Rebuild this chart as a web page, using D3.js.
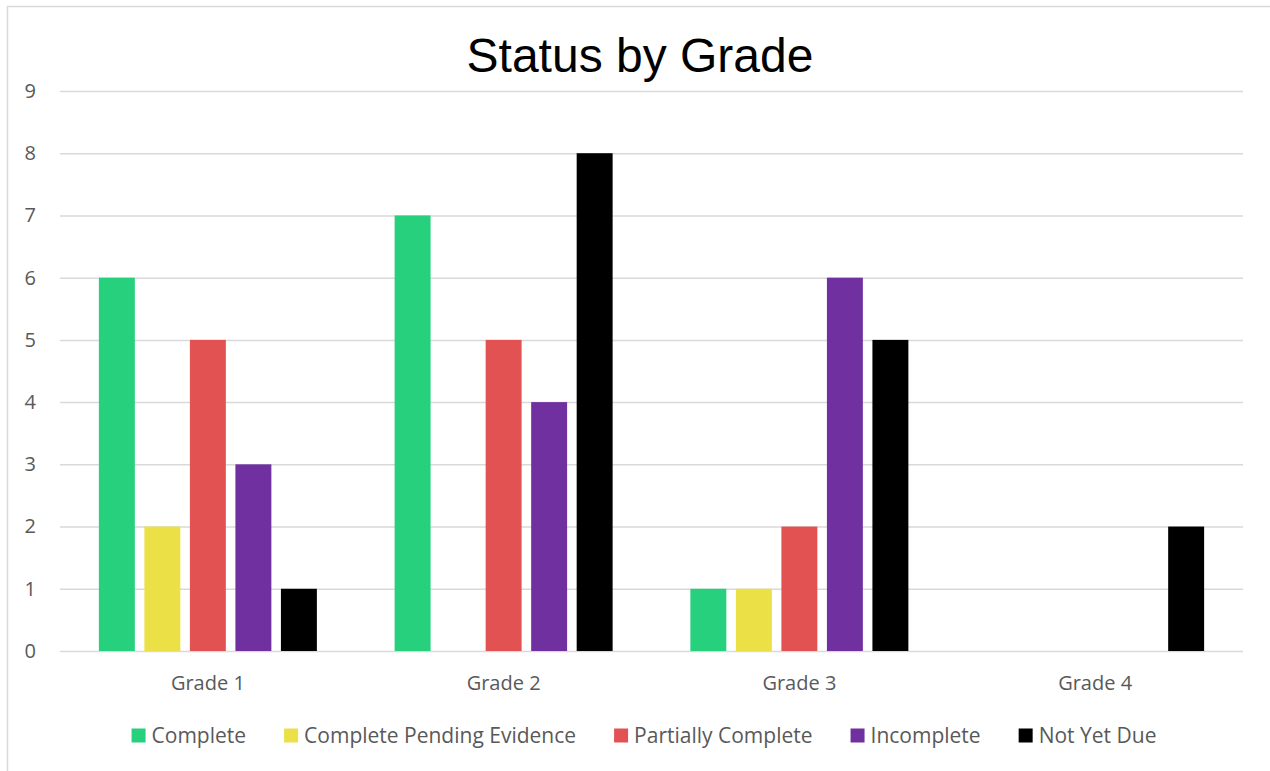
<!DOCTYPE html>
<html>
<head>
<meta charset="utf-8">
<script src="https://cdn.jsdelivr.net/npm/d3@7"></script>
<style>
  html, body { margin: 0; padding: 0; background: #fff; }
  svg { display: block; }
</style>
</head>
<body>
<svg id="chart" width="1270" height="771"></svg>
<script>
const categories = ["Grade 1", "Grade 2", "Grade 3", "Grade 4"];
const seriesNames = ["Complete", "Complete Pending Evidence", "Partially Complete", "Incomplete", "Not Yet Due"];
const seriesColors = ["#27D07D", "#EBE045", "#E35252", "#7030A0", "#000000"];
const complete = [6, 7, 1, 0];
const completePending = [2, 0, 1, 0];
const partiallyComplete = [5, 5, 2, 0];
const incomplete = [3, 4, 6, 0];
const notYetDue = [1, 8, 5, 2];
const yTicks = [0, 1, 2, 3, 4, 5, 6, 7, 8, 9];
const title = "Status by Grade";

const seriesValues = [complete, completePending, partiallyComplete, incomplete, notYetDue];

const svg = d3.select("#chart");
const W = 1270, H = 771;
const plot = { left: 60, right: 1243, top: 91, bottom: 651 };
const tickFont = "'Open Sans', 'Noto Sans', sans-serif";
const textColor = "#595959";

// chart border
svg.append("rect")
  .attr("x", 7.5).attr("y", 6.5)
  .attr("width", W + 10).attr("height", H + 10)
  .attr("fill", "#fff").attr("stroke", "#d9d9d9").attr("stroke-width", 1.5);

// title
svg.append("text")
  .attr("x", 640).attr("y", 72)
  .attr("text-anchor", "middle")
  .attr("font-family", "'Liberation Sans', Arial, sans-serif")
  .attr("font-size", 48)
  .attr("fill", "#000")
  .text(title);

const y = d3.scaleLinear().domain([0, 9]).range([plot.bottom, plot.top]);
const x0 = d3.scaleBand().domain(categories).range([plot.left, plot.right]).paddingInner(0).paddingOuter(0);
const groupWidth = 218;
const x1 = d3.scaleBand().domain(seriesNames)
  .range([0, groupWidth]).paddingInner(0.21).paddingOuter(0);

// gridlines
const yAxis = d3.axisLeft(y).tickValues(yTicks).tickSize(-(plot.right - plot.left)).tickPadding(24).tickFormat(d3.format("d"));
const gy = svg.append("g").attr("transform", `translate(${plot.left},0)`).call(yAxis);
gy.select(".domain").remove();
gy.selectAll(".tick line").attr("stroke", "#d9d9d9").attr("stroke-width", 1.5);
gy.selectAll(".tick text")
  .attr("font-family", tickFont).attr("font-size", 20).attr("fill", textColor);

// bars
const groups = svg.append("g").selectAll("g")
  .data(categories)
  .join("g")
  .attr("transform", c => `translate(${x0(c) + (x0.bandwidth() - groupWidth) / 2},0)`);

groups.selectAll("rect")
  .data((c, i) => seriesNames.map((s, k) => ({ s, k, v: seriesValues[k][i] })))
  .join("rect")
  .attr("x", d => x1(d.s))
  .attr("width", x1.bandwidth())
  .attr("y", d => y(d.v))
  .attr("height", d => y(0) - y(d.v))
  .attr("fill", d => seriesColors[d.k]);

// x axis labels
const xAxis = d3.axisBottom(x0).tickSize(0).tickPadding(25);
const gx = svg.append("g").attr("transform", `translate(0,${plot.bottom})`).call(xAxis);
gx.select(".domain").remove();
gx.selectAll(".tick text")
  .attr("font-family", tickFont).attr("font-size", 20).attr("fill", textColor);

// legend
const legend = svg.append("g");
const items = legend.selectAll("g").data(seriesNames).join("g");
items.append("rect")
  .attr("width", 14).attr("height", 14)
  .attr("y", -14)
  .attr("fill", (d, i) => seriesColors[i]);
items.append("text")
  .attr("x", 20).attr("y", 0)
  .attr("font-family", tickFont).attr("font-size", 21).attr("fill", textColor)
  .text(d => d);
let cx = 0;
const offsets = [];
items.each(function () {
  const w = 20 + this.querySelector("text").getComputedTextLength();
  offsets.push(cx);
  cx += w + 38;
});
const totalW = cx - 38;
const startX = 644 - totalW / 2;
items.attr("transform", (d, i) => `translate(${startX + offsets[i]},742.5)`);
</script>
</body>
</html>
